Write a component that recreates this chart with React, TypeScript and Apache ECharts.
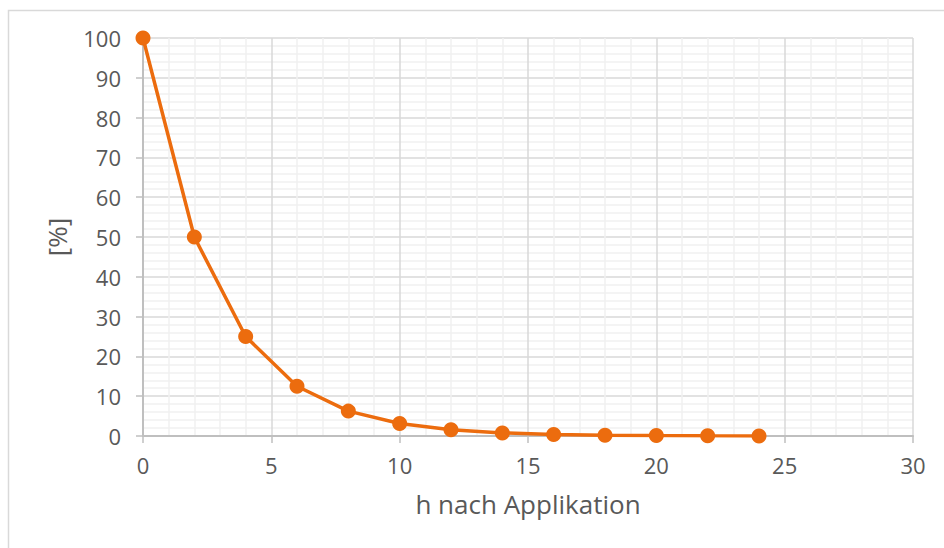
import React, { useEffect, useRef } from "react";
import * as echarts from "echarts";

const hours = [0, 2, 4, 6, 8, 10, 12, 14, 16, 18, 20, 22, 24];
const percent = [100, 50, 25, 12.5, 6.25, 3.13, 1.56, 0.78, 0.39, 0.2, 0.1, 0.05, 0.02];
const xName = "h nach Applikation";
const yName = "[%]";

export default function App() {
  const ref = useRef<HTMLDivElement>(null);
  useEffect(() => {
    const chart = echarts.init(ref.current!, undefined, { renderer: "svg" });
    const font = "'Open Sans', 'Noto Sans', sans-serif";
    chart.setOption({
      animation: false,
      backgroundColor: "#ffffff",
      graphic: [
        {
          type: "rect",
          shape: { x: 8.5, y: 10.5, width: 1000, height: 600 },
          style: { fill: "none", stroke: "#d9d9d9", lineWidth: 1.5 },
          silent: true,
        },
      ],
      grid: { left: 143, right: 31, top: 38, bottom: 112 },
      xAxis: {
        type: "value",
        min: 0,
        max: 30,
        interval: 5,
        name: xName,
        nameLocation: "middle",
        nameGap: 55,
        nameTextStyle: { color: "#595959", fontSize: 26, fontFamily: font },
        axisLine: { show: true, lineStyle: { color: "#bfbfbf", width: 2 } },
        axisTick: { show: true, length: 7, lineStyle: { color: "#bfbfbf", width: 1.5 } },
        axisLabel: { color: "#595959", fontSize: 22, fontFamily: font, margin: 18 },
        splitLine: { show: true, lineStyle: { color: "#d9d9d9", width: 1.5 } },
        minorTick: { show: false, splitNumber: 5 },
        minorSplitLine: { show: true, lineStyle: { color: "#f0f0f0", width: 1.5 } },
      },
      yAxis: {
        type: "value",
        min: 0,
        max: 100,
        interval: 10,
        name: yName,
        nameLocation: "middle",
        nameGap: 73,
        nameRotate: 90,
        nameTextStyle: { color: "#595959", fontSize: 26, fontFamily: font },
        axisLine: { show: true, lineStyle: { color: "#bfbfbf", width: 2 } },
        axisTick: { show: true, length: 7, lineStyle: { color: "#bfbfbf", width: 1.5 } },
        axisLabel: { color: "#595959", fontSize: 22, fontFamily: font, margin: 22 },
        splitLine: { show: true, lineStyle: { color: "#d9d9d9", width: 1.5 } },
        minorTick: { show: false, splitNumber: 5 },
        minorSplitLine: { show: true, lineStyle: { color: "#f0f0f0", width: 1.5 } },
      },
      series: [
        {
          type: "line",
          data: hours.map((h, i) => [h, percent[i]]),
          symbol: "circle",
          symbolSize: 15,
          itemStyle: { color: "#EC6C0E" },
          lineStyle: { color: "#EC6C0E", width: 3.5 },
        },
      ],
    });
    return () => chart.dispose();
  }, []);
  return (
    <div
      ref={ref}
      style={{ position: "absolute", left: 0, top: 0, width: 944, height: 548 }}
    />
  );
}
